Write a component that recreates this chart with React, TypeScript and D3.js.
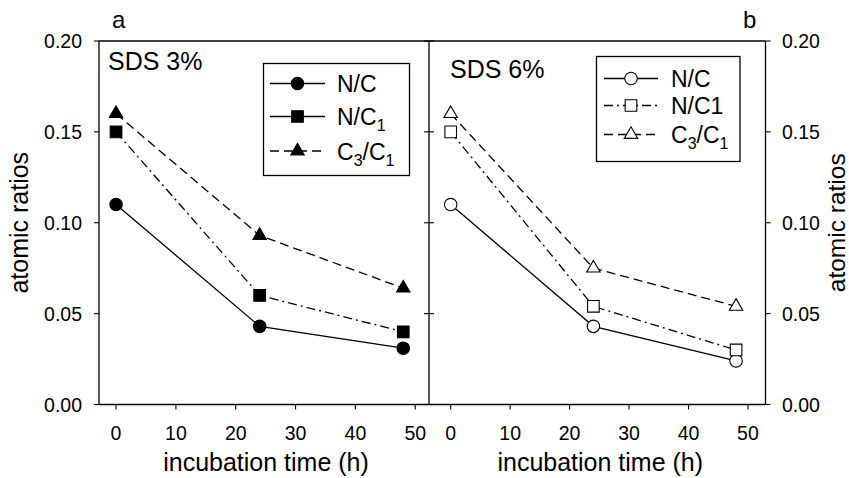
import React from "react";
import * as d3 from "d3";

const hours = [0, 24, 48];
const sds3NC = [0.11, 0.043, 0.031];
const sds3NC1 = [0.15, 0.06, 0.04];
const sds3C3C1 = [0.16, 0.093, 0.064];
const sds6NC = [0.11, 0.043, 0.024];
const sds6NC1 = [0.15, 0.054, 0.03];
const sds6C3C1 = [0.16, 0.075, 0.054];
const xTicks = [0, 10, 20, 30, 40, 50];
const yTicks = [0, 0.05, 0.1, 0.15, 0.2];
const yTickLabels = ["0.00", "0.05", "0.10", "0.15", "0.20"];

const FONT = "'Liberation Sans', Arial, sans-serif";
const W = 849;
const H = 478;
const TOP = 41;
const BOTTOM = 404.5;
const AL = 99;
const MID = 429;
const AR = 765.5;

const y = d3.scaleLinear().domain([0, 0.2]).range([BOTTOM, TOP]);
const xa = d3.scaleLinear().domain([-2.85, 52.3]).range([AL, MID]);
const xb = d3.scaleLinear().domain([-3.65, 52.95]).range([MID, AR]);

const DASH = "9,5";
const DASHDOT = "9,4,2,4";

type Kind = "circle" | "square" | "triangle";
const symType: Record<Kind, d3.SymbolType> = {
  circle: d3.symbolCircle,
  square: d3.symbolSquare,
  triangle: d3.symbolTriangle,
};
const symSize: Record<Kind, number> = { circle: 122, square: 135, triangle: 78 };

function Marker({ kind, cx, cy, filled }: { kind: Kind; cx: number; cy: number; filled: boolean }) {
  const p = d3.symbol().type(symType[kind]).size(symSize[kind])() as string;
  return (
    <path
      d={p}
      transform={`translate(${cx},${cy})`}
      fill={filled ? "#000" : "#fff"}
      stroke="#000"
      strokeWidth={1.1}
    />
  );
}

function Series({ x, vals, kind, filled, dash }: { x: d3.ScaleLinear<number, number>; vals: number[]; kind: Kind; filled: boolean; dash?: string }) {
  const line = d3
    .line<number>()
    .x((_, i) => x(hours[i]))
    .y((v) => y(v));
  return (
    <g>
      <path d={line(vals) as string} fill="none" stroke="#000" strokeWidth={1.3} strokeDasharray={dash} />
      {vals.map((v, i) => (
        <Marker key={i} kind={kind} cx={x(hours[i])} cy={y(v)} filled={filled} />
      ))}
    </g>
  );
}

function LegendItem({ x0, x1, cy, kind, filled, dash, tx, children }: any) {
  return (
    <g>
      <line x1={x0} x2={x1} y1={cy} y2={cy} stroke="#000" strokeWidth={1.3} strokeDasharray={dash} />
      <Marker kind={kind} cx={(x0 + x1) / 2} cy={cy} filled={filled} />
      <text x={tx} y={cy + 8.5} fontSize={23} fontFamily={FONT}>
        {children}
      </text>
    </g>
  );
}

export default function App() {
  return (
    <svg width={W} height={H} style={{ position: "absolute", left: 0, top: 0, background: "#fff" }}>
      <rect x={0} y={0} width={W} height={H} fill="#fff" />
      {/* frame */}
      <g stroke="#000" strokeWidth={1.3} fill="none">
        <line x1={AL} x2={AR} y1={TOP} y2={TOP} />
        <line x1={AL} x2={AR} y1={BOTTOM} y2={BOTTOM} />
        <line x1={AL} x2={AL} y1={TOP} y2={BOTTOM} />
        <line x1={MID} x2={MID} y1={TOP} y2={BOTTOM} />
        <line x1={AR} x2={AR} y1={TOP} y2={BOTTOM} />
      </g>
      {/* y ticks */}
      {yTicks.map((t, i) => (
        <g key={"yt" + i} stroke="#000" strokeWidth={1.1}>
          <line x1={AL - 5} x2={AL} y1={y(t)} y2={y(t)} />
          <line x1={AR} x2={AR + 5} y1={y(t)} y2={y(t)} />
          <line x1={MID - 5} x2={MID + 5} y1={y(t)} y2={y(t)} />
        </g>
      ))}
      {yTicks.map((t, i) => (
        <g key={"ytl" + i} fontFamily={FONT} fontSize={19.5}>
          <text x={82} y={y(t) + 7} textAnchor="end">
            {yTickLabels[i]}
          </text>
          <text x={782} y={y(t) + 7} textAnchor="start">
            {yTickLabels[i]}
          </text>
        </g>
      ))}
      {/* x ticks */}
      {xTicks.map((t) => (
        <g key={"xt" + t}>
          <line x1={xa(t)} x2={xa(t)} y1={BOTTOM} y2={BOTTOM + 5} stroke="#000" strokeWidth={1.1} />
          <line x1={xb(t)} x2={xb(t)} y1={BOTTOM} y2={BOTTOM + 5} stroke="#000" strokeWidth={1.1} />
          <text x={xa(t)} y={440} textAnchor="middle" fontFamily={FONT} fontSize={19.5}>
            {t}
          </text>
          <text x={xb(t)} y={440} textAnchor="middle" fontFamily={FONT} fontSize={19.5}>
            {t}
          </text>
        </g>
      ))}
      {/* axis titles */}
      <text x={(AL + MID) / 2 + 2} y={471} textAnchor="middle" fontFamily={FONT} fontSize={25}>
        incubation time (h)
      </text>
      <text x={(MID + AR) / 2 + 3} y={471} textAnchor="middle" fontFamily={FONT} fontSize={25}>
        incubation time (h)
      </text>
      <text transform={`translate(28,${(TOP + BOTTOM) / 2}) rotate(-90)`} textAnchor="middle" fontFamily={FONT} fontSize={25}>
        atomic ratios
      </text>
      <text transform={`translate(845,${(TOP + BOTTOM) / 2}) rotate(-90)`} textAnchor="middle" fontFamily={FONT} fontSize={24.5}>
        atomic ratios
      </text>
      {/* panel labels */}
      <text x={112} y={28} fontFamily={FONT} fontSize={24}>a</text>
      <text x={743} y={28} fontFamily={FONT} fontSize={24}>b</text>
      <text x={108} y={70} fontFamily={FONT} fontSize={25}>SDS 3%</text>
      <text x={450} y={78} fontFamily={FONT} fontSize={25}>SDS 6%</text>

      {/* panel a data */}
      <Series x={xa} vals={sds3NC} kind="circle" filled={true} />
      <Series x={xa} vals={sds3NC1} kind="square" filled={true} dash={DASHDOT} />
      <Series x={xa} vals={sds3C3C1} kind="triangle" filled={true} dash={DASH} />
      {/* panel b data */}
      <Series x={xb} vals={sds6NC} kind="circle" filled={false} />
      <Series x={xb} vals={sds6NC1} kind="square" filled={false} dash={DASHDOT} />
      <Series x={xb} vals={sds6C3C1} kind="triangle" filled={false} dash={DASH} />

      {/* legend a */}
      <rect x={263.5} y={63.5} width={146} height={112} fill="#fff" stroke="#000" strokeWidth={1.3} />
      <LegendItem x0={270} x1={325} cy={83.5} kind="circle" filled={true} tx={337}>N/C</LegendItem>
      <LegendItem x0={270} x1={325} cy={116.5} kind="square" filled={true} tx={337}>
        N/C<tspan dy={6} fontSize={16}>1</tspan>
      </LegendItem>
      <LegendItem x0={270} x1={325} cy={151} kind="triangle" filled={true} dash={DASH} tx={337}>
        C<tspan dy={6} fontSize={16}>3</tspan>
        <tspan dy={-6}>/C</tspan>
        <tspan dy={6} fontSize={16}>1</tspan>
      </LegendItem>

      {/* legend b */}
      <rect x={596.5} y={56.5} width={143.5} height={105} fill="#fff" stroke="#000" strokeWidth={1.3} />
      <LegendItem x0={604} x1={658} cy={78.5} kind="circle" filled={false} tx={671}>N/C</LegendItem>
      <LegendItem x0={604} x1={658} cy={105.5} kind="square" filled={false} dash={DASHDOT} tx={671}>N/C1</LegendItem>
      <LegendItem x0={604} x1={658} cy={134.5} kind="triangle" filled={false} dash={DASH} tx={671}>
        C<tspan dy={6} fontSize={16}>3</tspan>
        <tspan dy={-6}>/C</tspan>
        <tspan dy={6} fontSize={16}>1</tspan>
      </LegendItem>
    </svg>
  );
}
